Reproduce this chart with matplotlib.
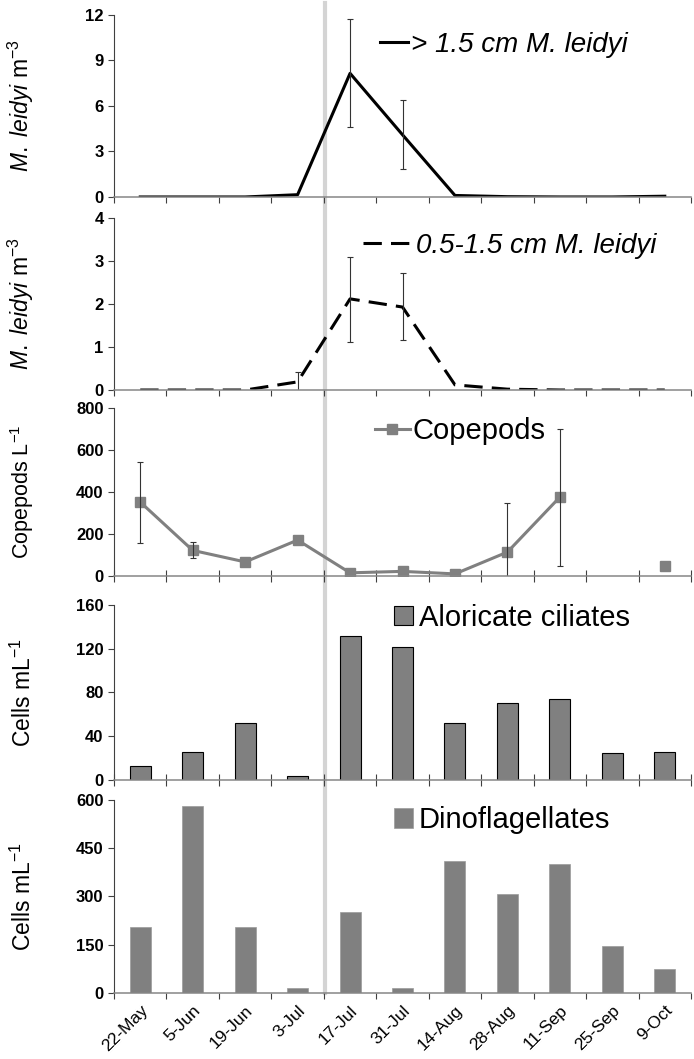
import matplotlib
matplotlib.use('Agg')
import numpy as np
import matplotlib.pyplot as plt
import matplotlib.transforms as mtransforms
from matplotlib.lines import Line2D
from matplotlib.patches import Patch

plt.rcParams['font.family'] = ['Liberation Sans', 'DejaVu Sans']
plt.rcParams['mathtext.fontset'] = 'custom'
plt.rcParams['mathtext.rm'] = 'Liberation Sans'
plt.rcParams['mathtext.it'] = 'Liberation Sans:italic'
plt.rcParams['mathtext.default'] = 'regular'

nan = np.nan

# sampling dates
dates = ['22-May', '5-Jun', '19-Jun', '3-Jul', '17-Jul', '31-Jul',
         '14-Aug', '28-Aug', '11-Sep', '25-Sep', '9-Oct']

# > 1.5 cm M. leidyi (ind m-3)
large = [0, 0, 0, 0.15, 8.15, 4.1, 0.1, 0.02, 0, 0, 0.05]
large_lo = [nan, nan, nan, nan, 3.55, 2.25, nan, nan, nan, nan, nan]
large_hi = [nan, nan, nan, nan, 3.55, 2.3, nan, nan, nan, nan, nan]

# 0.5-1.5 cm M. leidyi (ind m-3)
small = [0, 0, 0, 0.19, 2.12, 1.93, 0.12, 0.02, 0, 0, 0]
small_lo = [nan, nan, nan, 0.3, 1.0, 0.77, nan, nan, nan, nan, nan]
small_hi = [nan, nan, nan, 0.23, 0.97, 0.79, nan, nan, nan, nan, nan]

# copepods (ind L-1), no sample on 25-Sep
copepods = [352, 122, 67, 171, 15, 22, 10, 114, 376, nan, 48]
cop_lo = [195, 36, nan, nan, nan, nan, nan, 150, 328, nan, nan]
cop_hi = [191, 40, nan, nan, nan, nan, nan, 232, 324, nan, nan]

# aloricate ciliates and dinoflagellates (cells mL-1)
ciliates = [12.5, 26, 52, 4, 132, 122, 52, 70, 74, 25, 25.5]
dinos = [206, 581, 206, 17, 252, 15, 411, 308, 400, 146, 75]

yticks = [[0, 3, 6, 9, 12], [0, 1, 2, 3, 4], [0, 200, 400, 600, 800],
          [0, 40, 80, 120, 160], [0, 150, 300, 450, 600]]

event_pos = 3.53  # grey marker line between 3-Jul and 17-Jul

x = np.arange(len(dates))

fig = plt.figure(figsize=(6.94, 10.59), dpi=100)
rects = [(0.1643, 0.8140, 0.8314, 0.1719),
         (0.1643, 0.6317, 0.8314, 0.1624),
         (0.1643, 0.4561, 0.8314, 0.1586),
         (0.1643, 0.2635, 0.8314, 0.1652),
         (0.1643, 0.0623, 0.8314, 0.1823)]
axes = [fig.add_axes(r) for r in rects]

errc = '#333333'
leid_label = r'$\mathit{M.\ leidyi}$ m$^{-3}$'

ax1 = axes[0]
ax1.plot(x, large, color='black', lw=2.2)
ax1.errorbar(x, large, yerr=[large_lo, large_hi], fmt='none', ecolor=errc,
             elinewidth=0.8, capsize=2.5, capthick=0.8)
ax1.set_ylabel(leid_label, fontsize=16.5)
ax1.legend([Line2D([], [], color='black', lw=2.2)], ['> 1.5 cm M. leidyi'],
           loc='center left', bbox_to_anchor=(0.461, 0.835), frameon=False,
           handlelength=1.0, handletextpad=0.12, borderpad=0, borderaxespad=0,
           prop=dict(style='italic', size=20))

ax2 = axes[1]
ax2.plot(x, small, color='black', lw=2.2, linestyle=(0, (6, 3)))
ax2.errorbar(x, small, yerr=[small_lo, small_hi], fmt='none', ecolor=errc,
             elinewidth=0.8, capsize=2.5, capthick=0.8)
ax2.set_ylabel(leid_label, fontsize=16.5)
ax2.legend([Line2D([], [], color='black', lw=2.2, linestyle=(0, (6, 3)))],
           ['0.5-1.5 cm M. leidyi'],
           loc='center left', bbox_to_anchor=(0.432, 0.837), frameon=False,
           handlelength=1.8, handletextpad=0.08, borderpad=0, borderaxespad=0,
           prop=dict(style='italic', size=20))

ax3 = axes[2]
ax3.plot(x, copepods, color='#808080', lw=2.2, marker='s', markersize=7)
ax3.errorbar(x, copepods, yerr=[cop_lo, cop_hi], fmt='none', ecolor=errc,
             elinewidth=0.8, capsize=2.5, capthick=0.8)
ax3.set_ylabel(r'Copepods L$^{-1}$', fontsize=15.5)
ax3.legend([Line2D([], [], color='#808080', lw=2.2, marker='s', markersize=7)],
           ['Copepods'], loc='center left', bbox_to_anchor=(0.452, 0.863),
           frameon=False, handlelength=1.2, handletextpad=0.08, borderpad=0,
           borderaxespad=0, prop=dict(size=21))

ax4 = axes[3]
ax4.bar(x, ciliates, width=0.4, color='#808080', edgecolor='black', lw=0.8)
ax4.set_ylabel(r'Cells mL$^{-1}$', fontsize=16.5)
ax4.legend([Patch(facecolor='#808080', edgecolor='black', lw=0.8)],
           ['Aloricate ciliates'], loc='center left',
           bbox_to_anchor=(0.485, 0.926), frameon=False, handlelength=0.65,
           handleheight=0.65, handletextpad=0.2, borderpad=0, borderaxespad=0,
           prop=dict(size=21))

ax5 = axes[4]
ax5.bar(x, dinos, width=0.4, color='#808080', edgecolor='#9a9a9a', lw=0.5)
ax5.set_ylabel(r'Cells mL$^{-1}$', fontsize=16.5)
ax5.legend([Patch(facecolor='#808080', edgecolor='#9a9a9a', lw=0.5)],
           ['Dinoflagellates'], loc='center left',
           bbox_to_anchor=(0.485, 0.896), frameon=False, handlelength=0.65,
           handleheight=0.65, handletextpad=0.2, borderpad=0, borderaxespad=0,
           prop=dict(size=21))

for i, ax in enumerate(axes):
    ax.set_facecolor('none')
    ax.set_xlim(-0.5, len(dates) - 0.5)
    ax.set_ylim(yticks[i][0], yticks[i][-1])
    ax.set_yticks(yticks[i])
    ax.set_yticklabels([str(v) for v in yticks[i]], fontweight='bold',
                       fontsize=12)
    for s in ['top', 'right']:
        ax.spines[s].set_visible(False)
    ax.spines['left'].set_color('#404040')
    ax.spines['left'].set_linewidth(0.8)
    ax.spines['bottom'].set_color('#868686')
    ax.spines['bottom'].set_linewidth(1.1)
    ax.set_xticks(np.arange(-0.5, len(dates), 1))
    ax.set_xticklabels([])
    ax.set_xticks(x, minor=True)
    ax.tick_params(axis='x', which='minor', length=0)
    direction = 'inout' if i in (2, 3) else 'out'
    ax.tick_params(axis='x', which='major', direction=direction,
                   length=9 if direction == 'inout' else 4.5,
                   color='#404040', width=0.8)
    ax.tick_params(axis='y', direction='out', length=4.5, color='#404040',
                   width=0.8, pad=3)
    ax.yaxis.set_label_coords(-0.135, 0.5)

ax5.set_xticklabels(dates, minor=True, rotation=45, ha='right',
                    rotation_mode='anchor', fontsize=12.5)
ax5.tick_params(axis='x', which='minor', pad=7)

trans = mtransforms.blended_transform_factory(ax5.transData, fig.transFigure)
fig.add_artist(Line2D([event_pos, event_pos], [0.0623, 0.997],
                      transform=trans, color='#d4d4d4', lw=3, zorder=-1))

fig.savefig('out.png', dpi=100)
